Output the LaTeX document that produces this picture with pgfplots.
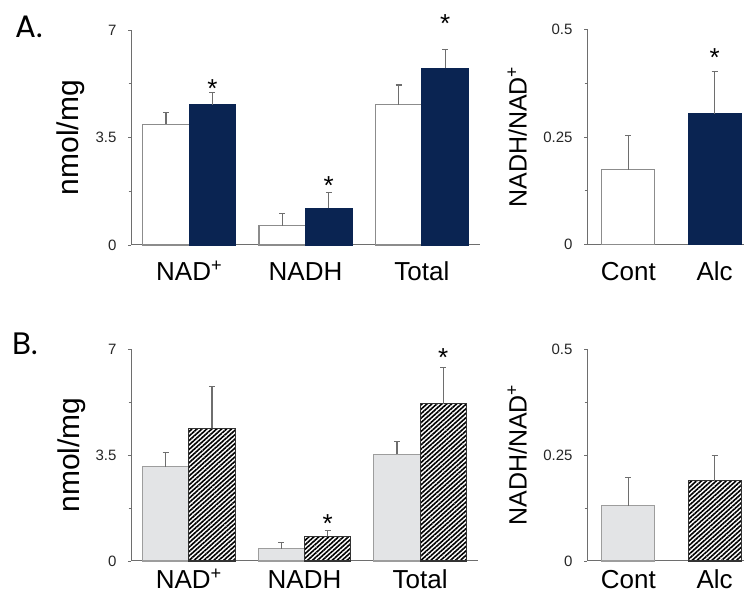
\documentclass[border=0pt]{standalone}
\usepackage{fontspec}
\setmainfont{Liberation Sans}
\newfontfamily\panelfont{Poppins}
\usepackage{pgfplots}
\pgfplotsset{compat=1.18}
\usetikzlibrary{patterns.meta}
\definecolor{navy}{HTML}{0A2452}
\definecolor{lgray}{HTML}{E3E4E6}
\definecolor{edgegray}{HTML}{8C8C8C}
\definecolor{errgray}{HTML}{6E6E6E}
\newcommand{\fs}[1]{\fontsize{#1}{#1}\selectfont}
\pgfplotsset{
  panel/.style={
    scale only axis, anchor=south west,
    axis x line*=bottom, axis y line*=left,
    ymin=0, clip=false,
    axis line style={draw=errgray, line width=1pt},
    tick align=outside, major tick length=3pt, minor tick length=2.5pt,
    xtick style={draw=none},
    ytick style={draw=errgray, line width=0.8pt},
    /pgf/number format/assume math mode=true,
    yticklabel style={font=\fs{15}, text=black!85, xshift=-8pt},
    ylabel style={anchor=center},
    error bars/y dir=plus, error bars/y explicit,
    error bars/error bar style={draw=errgray, line width=1.2pt},
    error bars/error mark options={draw=errgray, line width=1.2pt, mark size=3pt, rotate=90},
  },
  leftpanel/.style={panel, xmin=-0.5, xmax=2.5, ymax=7,
    ytick={0,3.5,7}, yticklabels={0,3.5,7}, minor ytick={1.75,5.25},
    xtick={0,1,2}, xticklabels={NAD\textsuperscript{+},NADH,Total},
    ylabel={nmol/mg}, ylabel style={font=\fs{30}, at={(axis description cs:-0.172,0.5)}}},
  rightpanel/.style={panel, xmin=-0.48, xmax=1.34, ymax=0.5, width=157pt,
    ytick={0,0.25,0.5}, yticklabels={0,0.25,0.5}, minor ytick={0.125,0.375},
    xtick={0,1}, xticklabels={Cont,Alc},
    ylabel={NADH/NAD\textsuperscript{+}}, ylabel style={font=\fs{25}, at={(axis description cs:-0.445,0.5)}}},
  toprow/.style={xticklabel style={font=\fs{26}, anchor=base, inner sep=0pt, yshift=-33pt}},
  lowrow/.style={xticklabel style={font=\fs{26}, anchor=base, inner sep=0pt, yshift=-24.5pt}},
  wbar/.style={ybar, bar width=0.4, bar shift=0pt, fill=white, draw=edgegray, line width=1.1pt},
  nbar/.style={ybar, bar width=0.4, bar shift=0pt, fill=navy, draw=navy, line width=1.1pt},
  gbar/.style={ybar, bar width=0.4, bar shift=0pt, fill=lgray, draw=edgegray!85, line width=1.1pt},
  hbar/.style={ybar, bar width=0.4, bar shift=0pt, fill=white, draw=black!80, line width=1.1pt,
    postaction={pattern={Lines[angle=42,distance=3.3pt,line width=1.6pt]}}},
}
\begin{document}
\begin{tikzpicture}[x=1pt,y=1pt]
\useasboundingbox (0,0) rectangle (744,593);
\node[anchor=base west, font=\panelfont\fs{31}] at (12,555) {A.};
\node[anchor=base west, font=\panelfont\fs{31}] at (9,238) {B.};

% ---- A left ----
\begin{axis}[leftpanel, toprow, at={(131pt,348pt)}, width=349pt, height=215pt]
\addplot[wbar] coordinates {(-0.2,3.93) +- (0,0.38) (0.8,0.62) +- (0,0.41) (1.8,4.56) +- (0,0.65)};
\addplot[nbar] coordinates {(0.2,4.57) +- (0,0.40) (1.2,1.19) +- (0,0.51) (2.2,5.75) +- (0,0.62)};
\node[font=\fs{26}, yshift=-6pt] at (axis cs:0.2,5.3) {*};
\node[font=\fs{26}, yshift=-6pt] at (axis cs:1.2,2.12) {*};
\node[font=\fs{26}, yshift=-6pt] at (axis cs:2.2,7.4) {*};
\end{axis}

% ---- A right ----
\begin{axis}[rightpanel, toprow, at={(587pt,348.5pt)}, height=215pt]
\addplot[wbar, bar width=0.614] coordinates {(0,0.174) +- (0,0.079)};
\addplot[nbar, bar width=0.614] coordinates {(1,0.304) +- (0,0.099)};
\node[font=\fs{26}, yshift=-6pt] at (axis cs:1,0.448) {*};
\end{axis}

% ---- B left ----
\begin{axis}[leftpanel, lowrow, at={(131pt,32pt)}, width=347pt, height=212pt]
\addplot[gbar] coordinates {(-0.2,3.11) +- (0,0.48) (0.8,0.41) +- (0,0.19) (1.8,3.52) +- (0,0.42)};
\addplot[hbar] coordinates {(0.2,4.38) +- (0,1.39) (1.2,0.81) +- (0,0.21) (2.2,5.20) +- (0,1.18)};
\node[font=\fs{26}, yshift=-6pt] at (axis cs:1.2,1.42) {*};
\node[font=\fs{26}, yshift=-6pt] at (axis cs:2.2,6.92) {*};
\end{axis}

% ---- B right ----
\begin{axis}[rightpanel, lowrow, at={(587pt,32pt)}, height=212pt]
\addplot[gbar, bar width=0.614] coordinates {(0,0.130) +- (0,0.067)};
\addplot[hbar, bar width=0.614] coordinates {(1,0.189) +- (0,0.059)};
\end{axis}
\end{tikzpicture}
\end{document}
